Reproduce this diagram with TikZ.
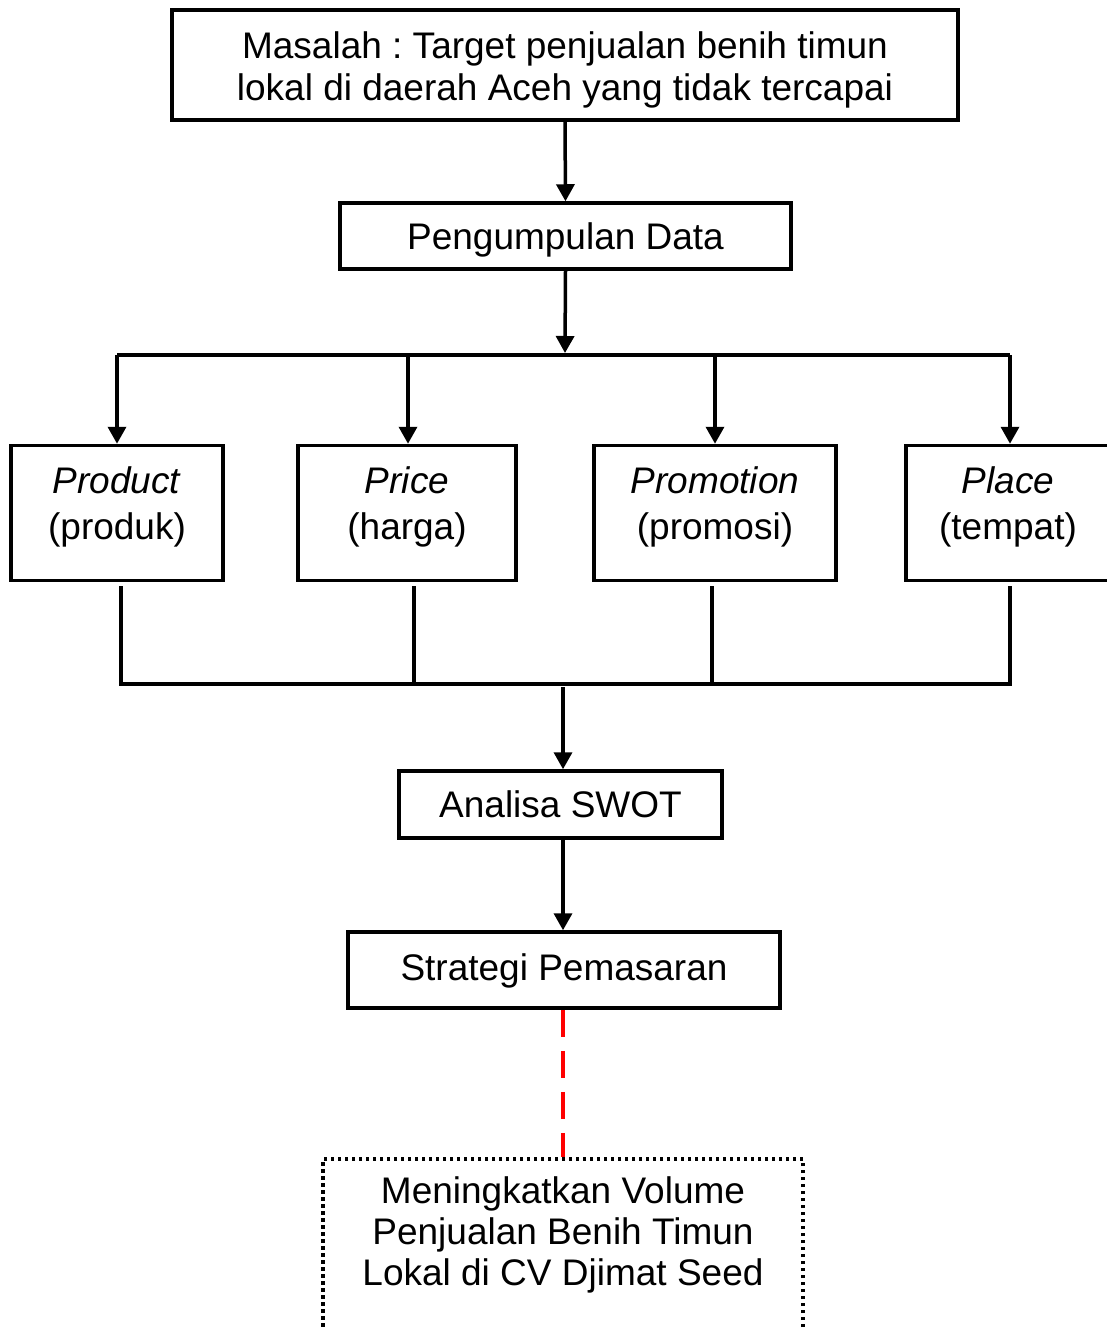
\documentclass[tikz,border=0pt]{standalone}
\usepackage{fontspec}
\setmainfont{Liberation Sans}
\usetikzlibrary{arrows.meta}
\frenchspacing
\begin{document}
\begin{tikzpicture}[x=1pt,y=-1pt,
  box/.style={draw,line width=3.5pt,inner sep=0pt},
  lab/.style={align=center,inner sep=0pt,font=\fontsize{37}{42}\selectfont},
  plab/.style={lab,font=\fontsize{37}{46}\selectfont},
  glab/.style={lab,font=\fontsize{37}{41}\selectfont},
  pbox/.style={box,minimum height=135pt},
  arr/.style={line width=3.5pt,-{Triangle[length=17pt,width=18pt]}},
  ln/.style={line width=3.5pt},
  dotbox/.style={draw,line width=4pt,dash pattern=on 3.5pt off 3.5pt,inner sep=0pt},
  reddash/.style={draw=red,line width=3.5pt,dash pattern=on 27pt off 14pt}
 ]
\useasboundingbox (0,0) rectangle (1106,1328);

\node[box,minimum width=786pt,minimum height=110pt,
  label={[lab,name=topT,yshift=-5pt]center:{Masalah : Target penjualan benih timun\\lokal di daerah Aceh yang tidak tercapai}}] (top) at (565,65) {};
\node[box,minimum width=451pt,minimum height=66pt,
  label={[lab,name=pdT,yshift=-4pt]center:Pengumpulan Data}] (pd) at (565.5,236) {};

\node[pbox,minimum width=212pt,label={[plab,name=productT,yshift=6pt]center:{\textit{Product}\\(produk)}}] (product) at (117,513) {};
\node[pbox,minimum width=218pt,label={[plab,name=priceT,yshift=6pt]center:{\textit{Price}\\(harga)}}] (price) at (407,513) {};
\node[pbox,minimum width=242pt,label={[plab,name=promoT,yshift=6pt]center:{\textit{Promotion}\\(promosi)}}] (promo) at (715,513) {};
\node[pbox,minimum width=204pt,label={[plab,name=placeT,yshift=6pt]center:{\textit{Place}\\(tempat)}}] (place) at (1008,513) {};

\node[box,minimum width=323pt,minimum height=67pt,
  label={[lab,name=swotT]center:Analisa SWOT}] (swot) at (560.5,804.5) {};
\node[box,minimum width=432pt,minimum height=76pt,
  label={[lab,name=stratT,yshift=-1pt]center:Strategi Pemasaran}] (strat) at (564,970) {};

\node[dotbox,minimum width=480pt,minimum height=192pt,anchor=north] (goal) at (563,1157) {};
\node[glab,anchor=north] (goalT) at (563,1176)
  {Meningkatkan Volume\\Penjualan Benih Timun\\Lokal di CV Djimat Seed};

% top connectors
\draw[arr] (top.south) -- (pd.north);
\coordinate (bus) at (565,353);
\draw[arr] (pd.south) -- (bus);
\coordinate (bL) at (117,355);
\coordinate (bR) at (1010,355);
\draw[ln] (bL) -- (bR);
\coordinate (b1) at (117,355);
\coordinate (b2) at (408,355);
\coordinate (b3) at (715,355);
\coordinate (b4) at (1010,355);
\draw[arr] (b1) -- (product.north);
\draw[arr] (b2) -- (b2 |- price.north);
\draw[arr] (b3) -- (promo.north);
\draw[arr] (b4) -- (b4 |- place.north);

% bottom bus
\coordinate (u1) at (121,586);
\coordinate (u2) at (414,586);
\coordinate (u3) at (712,586);
\coordinate (u4) at (1010,586);
\coordinate (d1) at (121,684);
\coordinate (d2) at (414,684);
\coordinate (d3) at (712,684);
\coordinate (d4) at (1010,684);
\draw[ln] (u2) -- (d2);
\draw[ln] (u3) -- (d3);
\draw[ln,line join=miter] (u1) -- (d1) -- (d4) -- (u4);
\coordinate (m) at (563,687);
\draw[arr] (m) -- (swot.north -| m);
\draw[arr] (swot.south -| m) -- (strat.north -| m);

\draw[reddash] (strat.south -| goal.north) -- (goal.north);
\end{tikzpicture}
\end{document}
